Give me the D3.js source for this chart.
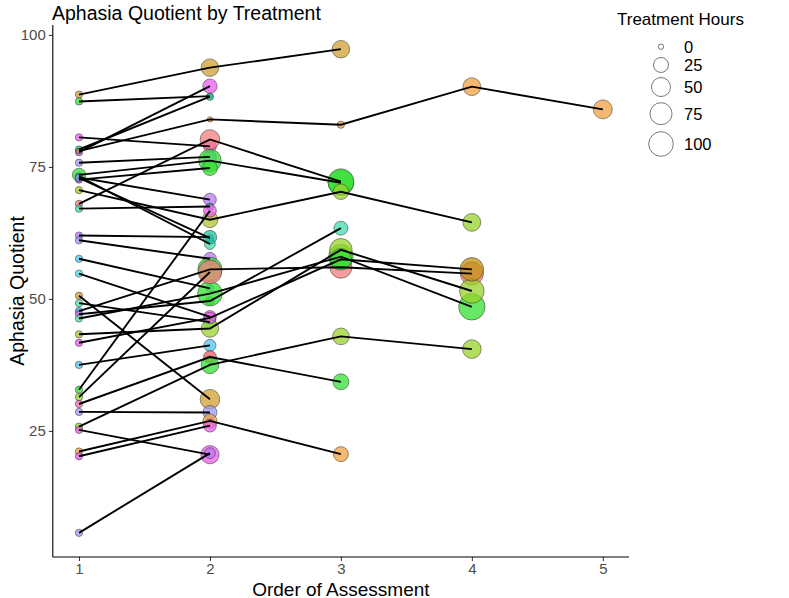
<!DOCTYPE html>
<html>
<head>
<meta charset="utf-8">
<script src="https://cdn.jsdelivr.net/npm/d3@7"></script>
<style>
  body { margin: 0; background: #fff; }
  text { font-family: "Liberation Sans", Arial, sans-serif; }
</style>
</head>
<body>
<svg id="chart" width="789" height="598"></svg>
<script>
// ---- data (long form: one row per assessment) ----
const subject = [
  1,1,1, 2,2, 3,3, 4,4, 5,5, 6,6,6,6,6, 7,7, 8,8,8, 9,9, 10,10,10,
  11,11, 12,12, 13,13, 14,14,14,14, 15,15, 16,16, 17,17, 18,18, 19,19,
  20,20, 21,21, 22,22,22,22, 23,23,23, 24,24,24,24, 25,25,25,25, 26,26,26,26,
  27,27, 28,28, 29,29, 30,30,30, 31,31,31,31, 32,32, 33,33, 34,34,34, 35,35, 36,36
];
const order = [
  1,2,3, 1,2, 1,2, 1,2, 1,2, 1,2,3,4,5, 1,2, 1,2,3, 1,2, 1,2,3,
  1,2, 1,2, 1,2, 1,2,3,4, 1,2, 1,2, 1,2, 1,2, 1,2,
  1,2, 1,2, 1,2,3,4, 1,2,3, 1,2,3,4, 1,2,3,4, 1,2,3,4,
  1,2, 1,2, 1,2, 1,2,3, 1,2,3,4, 1,2, 1,2, 1,2,3, 1,2, 1,2
];
const aq = [
  88.7,93.8,97.3, 87.4,88.4, 80.6,78.9, 78.3,88.3, 77.8,90.3, 78.0,84.0,83.0,90.2,85.9, 75.8,76.9, 73.5,76.2,72.0, 72.6,74.8, 68.0,80.2,72.2,
  73.0,68.8, 73.2,60.4, 72.9,61.5, 70.6,65.0,70.3,64.5, 67.1,67.5, 62.0,61.7, 61.1,57.6, 57.6,52.0, 54.8,46.6,
  50.6,31.0, 49.2,45.6, 47.7,55.6,56.0,54.8, 47.1,49.6,63.4, 46.3,51.0,58.0,48.5, 43.3,44.4,59.3,51.5, 41.7,46.4,57.5,55.6,
  37.5,41.2, 32.8,66.7, 31.4,55.1, 30.1,39.0,34.3, 25.8,37.5,42.9,40.5, 28.6,28.5, 25.2,20.5, 21.1,26.9,20.6, 20.2,26.0, 5.7,20.8
];
const hours = [
  1,40,40, 1,0, 1,15, 1,1, 1,22, 0,0,1,42,50, 1,15, 17,80,110, 1,25, 1,55,115,
  1,15, 1,8, 1,1, 1,30,28,42, 1,1, 1,18, 1,15, 1,1, 1,15,
  1,55, 1,12, 1,95,75,85, 1,3,20, 1,100,100,120, 1,40,80,100, 1,10,70,90,
  1,12, 1,15, 1,90, 1,15,30, 1,40,35,48, 1,20, 1,45, 1,20,25, 1,15, 1,8
];
const colorGroup = [
  "gold","gold","gold", "green","teal", "magenta","magenta", "teal","teal", "purple","magenta",
  "orange","orange","orange","orange","orange", "periwinkle","periwinkle", "green","green","green",
  "purple","green", "salmon","salmon","green",
  "blue","violet", "teal","turquoise", "periwinkle","blue", "olive","olive","lime","lime",
  "turquoise","teal", "violet","teal", "periwinkle","violet", "skyblue","skyblue", "cyan","magenta",
  "gold","gold", "seafoam","turquoise", "blue","green","salmon","salmon", "magenta","green","turquoise",
  "seafoam","green","green","green", "olive","lime","lime","lime", "magenta","magenta","green","darkgold",
  "skyblue","skyblue", "green","magenta", "lime","salmon", "pink","red","green", "lime","green","lime","lime",
  "periwinkle","periwinkle", "magenta","magenta", "orange","orange","orange", "magenta","magenta", "periwinkle","violet"
];
const groupNames = ["gold","darkgold","green","lime","olive","teal","turquoise","seafoam","cyan","skyblue","blue",
                    "periwinkle","violet","purple","magenta","pink","salmon","red","orange"];
const groupColors = ["#D2A030","#C09010","#33E033","#9AD22A","#B5C22A","#20C09A","#40DCB0","#50E0A8","#50DCEC","#50C4F4","#2AA8E8",
                     "#9C98F4","#B878F0","#A060E8","#EC5CEC","#F070B8","#F47C7C","#EE5A60","#F0A040"];
const legendHours = [0, 25, 50, 75, 100];
const xTicks = [1, 2, 3, 4, 5];
const yTicks = [25, 50, 75, 100];

// ---- build records ----
const rows = aq.map((v, i) => ({subject: subject[i], order: order[i], aq: v, hours: hours[i], group: colorGroup[i]}));

const svg = d3.select("#chart");
const W = 789, H = 598;
svg.append("rect").attr("width", W).attr("height", H).attr("fill", "#fff");

const panel = {left: 52.8, right: 629, top: 25, bottom: 557};

const xExt = d3.extent(rows, d => d.order);
const xPad = (xExt[1] - xExt[0]) * 0.05;
const x = d3.scaleLinear().domain([xExt[0] - xPad, xExt[1] + xPad]).range([panel.left, panel.right]);
const yExt = d3.extent(rows, d => d.aq);
const yPad = (yExt[1] - yExt[0]) * 0.05;
const y = d3.scaleLinear().domain([yExt[0] - yPad, yExt[1] + yPad]).range([panel.bottom, panel.top]);
const r = d3.scaleSqrt().domain([0, 100]).range([2.7, 12.3]);
const color = d3.scaleOrdinal().domain(groupNames).range(groupColors);

// points
const g = svg.append("g");
g.selectAll("circle.pt").data(rows).join("circle")
  .attr("class", "pt")
  .attr("cx", d => x(d.order)).attr("cy", d => y(d.aq))
  .attr("r", d => r(d.hours))
  .attr("fill", d => color(d.group)).attr("fill-opacity", 0.75)
  .attr("stroke", "#333").attr("stroke-opacity", 0.75).attr("stroke-width", 0.7);

// lines (one per subject), drawn on top
const bySubject = d3.groups(rows, d => d.subject);
const line = d3.line().x(d => x(d.order)).y(d => y(d.aq));
g.selectAll("path.traj").data(bySubject).join("path")
  .attr("class", "traj")
  .attr("d", d => line(d[1].sort((a, b) => a.order - b.order)))
  .attr("fill", "none").attr("stroke", "#000").attr("stroke-width", 1.9);

// axes
const xAxis = d3.axisBottom(x).tickValues(xTicks).tickFormat(d3.format("d")).tickSizeOuter(0).tickSize(4).tickPadding(2);
const yAxis = d3.axisLeft(y).tickValues(yTicks).tickSizeOuter(0).tickSize(4).tickPadding(3);
const gx = svg.append("g").attr("transform", `translate(0,${panel.bottom})`).call(xAxis);
const gy = svg.append("g").attr("transform", `translate(${panel.left},0)`).call(yAxis);
[gx, gy].forEach(a => {
  a.select(".domain").remove();
  a.selectAll(".tick line").attr("stroke", "#333").attr("stroke-width", 1);
  a.selectAll(".tick text").attr("fill", "#4D4D4D").style("font-size", "15px").style("font-family", "Liberation Sans, Arial, sans-serif");
});
svg.append("line").attr("x1", panel.left).attr("x2", panel.right).attr("y1", panel.bottom).attr("y2", panel.bottom)
  .attr("stroke", "#000").attr("stroke-width", 1.1);
svg.append("line").attr("x1", panel.left).attr("x2", panel.left).attr("y1", panel.top).attr("y2", panel.bottom)
  .attr("stroke", "#000").attr("stroke-width", 1.1);

// titles
svg.append("text").attr("x", 52).attr("y", 19.5).text("Aphasia Quotient by Treatment")
  .style("font-size", "19.5px").attr("fill", "#000");
svg.append("text").attr("x", (panel.left + panel.right) / 2).attr("y", 595.5).attr("text-anchor", "middle")
  .text("Order of Assessment").style("font-size", "19px").attr("fill", "#000");
svg.append("text").attr("transform", `translate(24,${(panel.top + panel.bottom) / 2}) rotate(-90)`)
  .attr("text-anchor", "middle").text("Aphasia Quotient").style("font-size", "19.5px").attr("fill", "#000");

// legend
const lg = svg.append("g");
lg.append("text").attr("x", 617).attr("y", 25).text("Treatment Hours").style("font-size", "17px").attr("fill", "#000");
let cy = 46.7;
const keyH = h => Math.max(17, r(h) * 2.6);
legendHours.forEach((h, i) => {
  if (i > 0) cy += (keyH(legendHours[i - 1]) + keyH(h)) / 2;
  lg.append("circle").attr("cx", 661).attr("cy", cy).attr("r", r(h))
    .attr("fill", "#fff").attr("stroke", "#555").attr("stroke-width", 0.8);
  lg.append("text").attr("x", 684).attr("y", cy).attr("dy", "0.36em").text(h)
    .style("font-size", "16.5px").attr("fill", "#000");
});
</script>
</body>
</html>
